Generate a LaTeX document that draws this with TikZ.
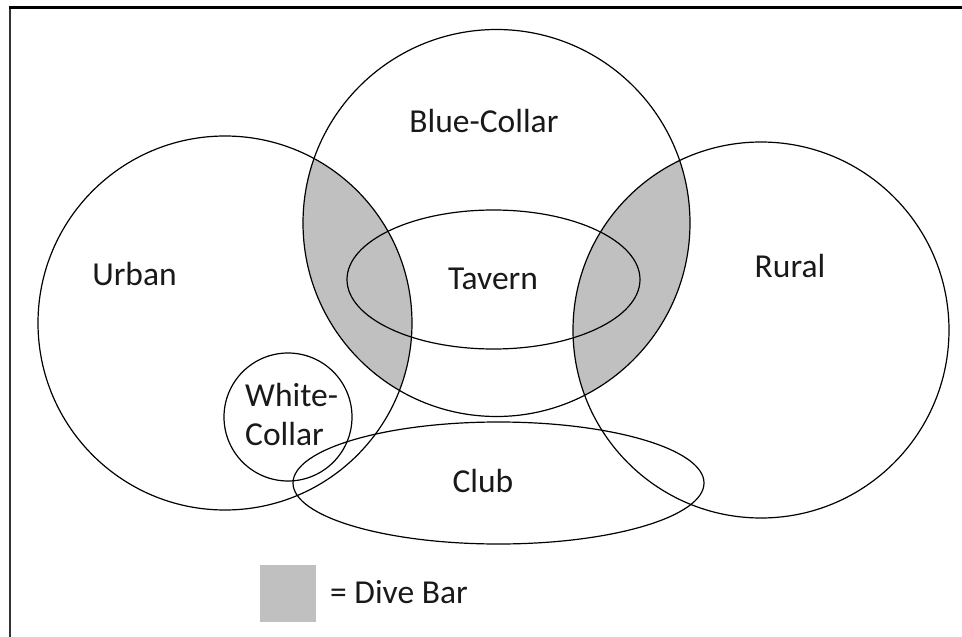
\documentclass[tikz,border=0pt]{standalone}
\usepackage{fontspec}
\setmainfont{Carlito}
\definecolor{divegray}{RGB}{192,192,192}
\tikzset{
  setline/.style={line width=1.2pt, black},
  setlabel/.style={font=\fontsize{33.5}{38}\selectfont, text=black!90, anchor=base, inner sep=0pt},
}

\begin{document}
\begin{tikzpicture}[x=1pt, y=-1pt]
    \useasboundingbox (0,0) rectangle (962,637);
    % Frame (top and left edge only)
    \draw[line width=2pt, black!80] (9.5,637) -- (9.5,7.5);
    \draw[line width=2.2pt] (8.5,7.5) -- (962,7.5);

    % Centres of the sets
    \coordinate (blue)  at (496.5,223);
    \coordinate (urban) at (225,323);
    \coordinate (rural) at (761,330);
    \coordinate (tav)   at (493.5,279.5);
    \coordinate (club)  at (498.5,483);
    \coordinate (white) at (288,417);

    % Dive bar = Blue-Collar and (Urban or Rural)
    \begin{scope}
        \clip (blue) circle (193.5pt);
        \fill[divegray] (urban) circle (187pt);
        \fill[divegray] (rural) circle (188pt);
    \end{scope}

    % Outlines
    \draw[setline] (blue) circle (193.5pt);
    \draw[setline] (urban) circle (187pt);
    \draw[setline] (rural) circle (188pt);
    \draw[setline] (tav) ellipse (146.5pt and 69.5pt);
    \draw[setline] (club) ellipse (205.5pt and 61pt);
    \draw[setline] (white) circle (64pt);

    % Labels
    \node[setlabel] (lblBlue)   at (484,132.7) {Blue-Collar};
    \node[setlabel] (lblUrban)  at (134.5,285.7) {Urban};
    \node[setlabel] (lblRural)  at (790,277) {Rural};
    \node[setlabel] (lblTavern) at (493,289) {Tavern};
    \node[setlabel] (lblClub)   at (483,492.7) {Club};
    \node[setlabel, anchor=base west] (lblWhiteA) at (245,406.7) {White-};
    \node[setlabel, anchor=base west] (lblWhiteB) at (245,445) {Collar};

    % Legend
    \fill[divegray] (260,565) rectangle (316,622);
    \node[setlabel, anchor=base west] (lblLegend) at (330,603) {= Dive Bar};
\end{tikzpicture}
\end{document}
